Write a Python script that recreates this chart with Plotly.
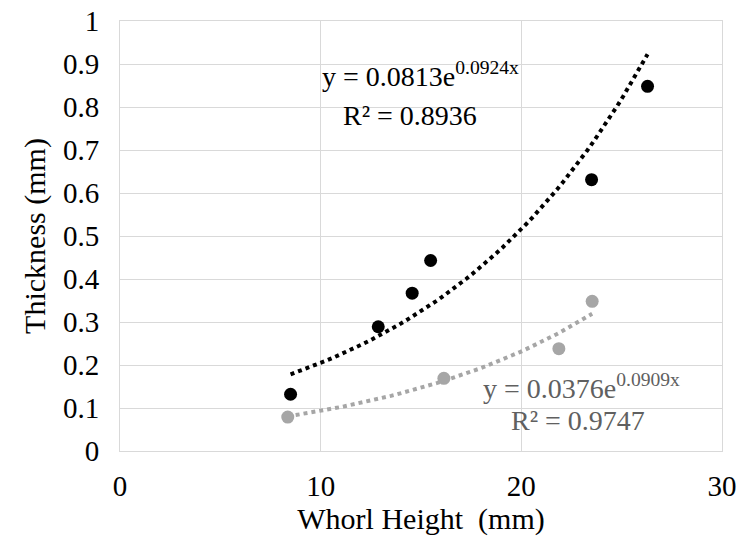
import numpy as np
import plotly.graph_objects as go

# measured points (whorl height mm, thickness mm)
black_x = [8.5, 12.87, 14.56, 15.48, 23.5, 26.29]
black_y = [0.132, 0.289, 0.367, 0.443, 0.631, 0.848]
gray_x = [8.36, 16.14, 21.87, 23.53]
gray_y = [0.079, 0.169, 0.238, 0.348]

# exponential trendline coefficients, as printed on the chart
black_a, black_b = 0.0813, 0.0924
gray_a, gray_b = 0.0376, 0.0909

x_ticks = [0, 10, 20, 30]
y_ticks = [0, 0.1, 0.2, 0.3, 0.4, 0.5, 0.6, 0.7, 0.8, 0.9, 1]
y_tick_text = ['0', '0.1', '0.2', '0.3', '0.4', '0.5', '0.6', '0.7', '0.8', '0.9', '1']

FONT = 'Liberation Serif'
GRID = '#d9d9d9'
GRAY_MARK = '#a6a6a6'
GRAY_TEXT = '#606060'


def trend(xs, a, b):
    t = np.linspace(min(xs), max(xs), 60)
    return t, a * np.exp(b * t)


fig = go.Figure()

tx, ty = trend(black_x, black_a, black_b)
fig.add_trace(go.Scatter(x=tx, y=ty, mode='lines',
                         line=dict(color='black', width=4, dash='dot')))
tx, ty = trend(gray_x, gray_a, gray_b)
fig.add_trace(go.Scatter(x=tx, y=ty, mode='lines',
                         line=dict(color=GRAY_MARK, width=4, dash='dot')))

fig.add_trace(go.Scatter(x=black_x, y=black_y, mode='markers',
                         marker=dict(color='black', size=13)))
fig.add_trace(go.Scatter(x=gray_x, y=gray_y, mode='markers',
                         marker=dict(color=GRAY_MARK, size=13)))

ann = [
    (14.95, 0.875, f'y = {black_a}e<sup>{black_b}x</sup>', 'black'),
    (14.45, 0.781, 'R² = 0.8936', 'black'),
    (23.02, 0.151, f'y = {gray_a}e<sup>{gray_b}x</sup>', GRAY_TEXT),
    (22.82, 0.072, 'R² = 0.9747', GRAY_TEXT),
]
for x, y, text, color in ann:
    fig.add_annotation(x=x, y=y, text=text, showarrow=False,
                       font=dict(family=FONT, size=28, color=color),
                       xanchor='center', yanchor='middle')

fig.update_layout(
    width=740, height=539,
    margin=dict(l=120, r=18, t=21, b=88),
    paper_bgcolor='white', plot_bgcolor='white',
    showlegend=False,
    font=dict(family=FONT, size=29, color='black'),
    xaxis=dict(range=[0, 30], tickvals=x_ticks, showgrid=True, gridcolor=GRID,
               showline=True, linecolor=GRID, mirror=True, zeroline=False,
               ticks='outside', ticklen=9, tickcolor='rgba(0,0,0,0)',
               automargin=False,
               title=dict(text='Whorl Height\u00a0 (mm)', standoff=6,
                          font=dict(family=FONT, size=30))),
    yaxis=dict(range=[0, 1], tickvals=y_ticks, ticktext=y_tick_text,
               showgrid=True, gridcolor=GRID,
               showline=True, linecolor=GRID, mirror=True, zeroline=False,
               ticks='outside', ticklen=14, tickcolor='rgba(0,0,0,0)',
               automargin=False,
               title=dict(text='Thickness (mm)', standoff=8,
                          font=dict(family=FONT, size=30))),
)

# drop the page's default 8px body margin so the figure sits at the corner
fig.write_html('out.html', config={'displayModeBar': False},
               post_script="document.body.style.margin = '0';")
